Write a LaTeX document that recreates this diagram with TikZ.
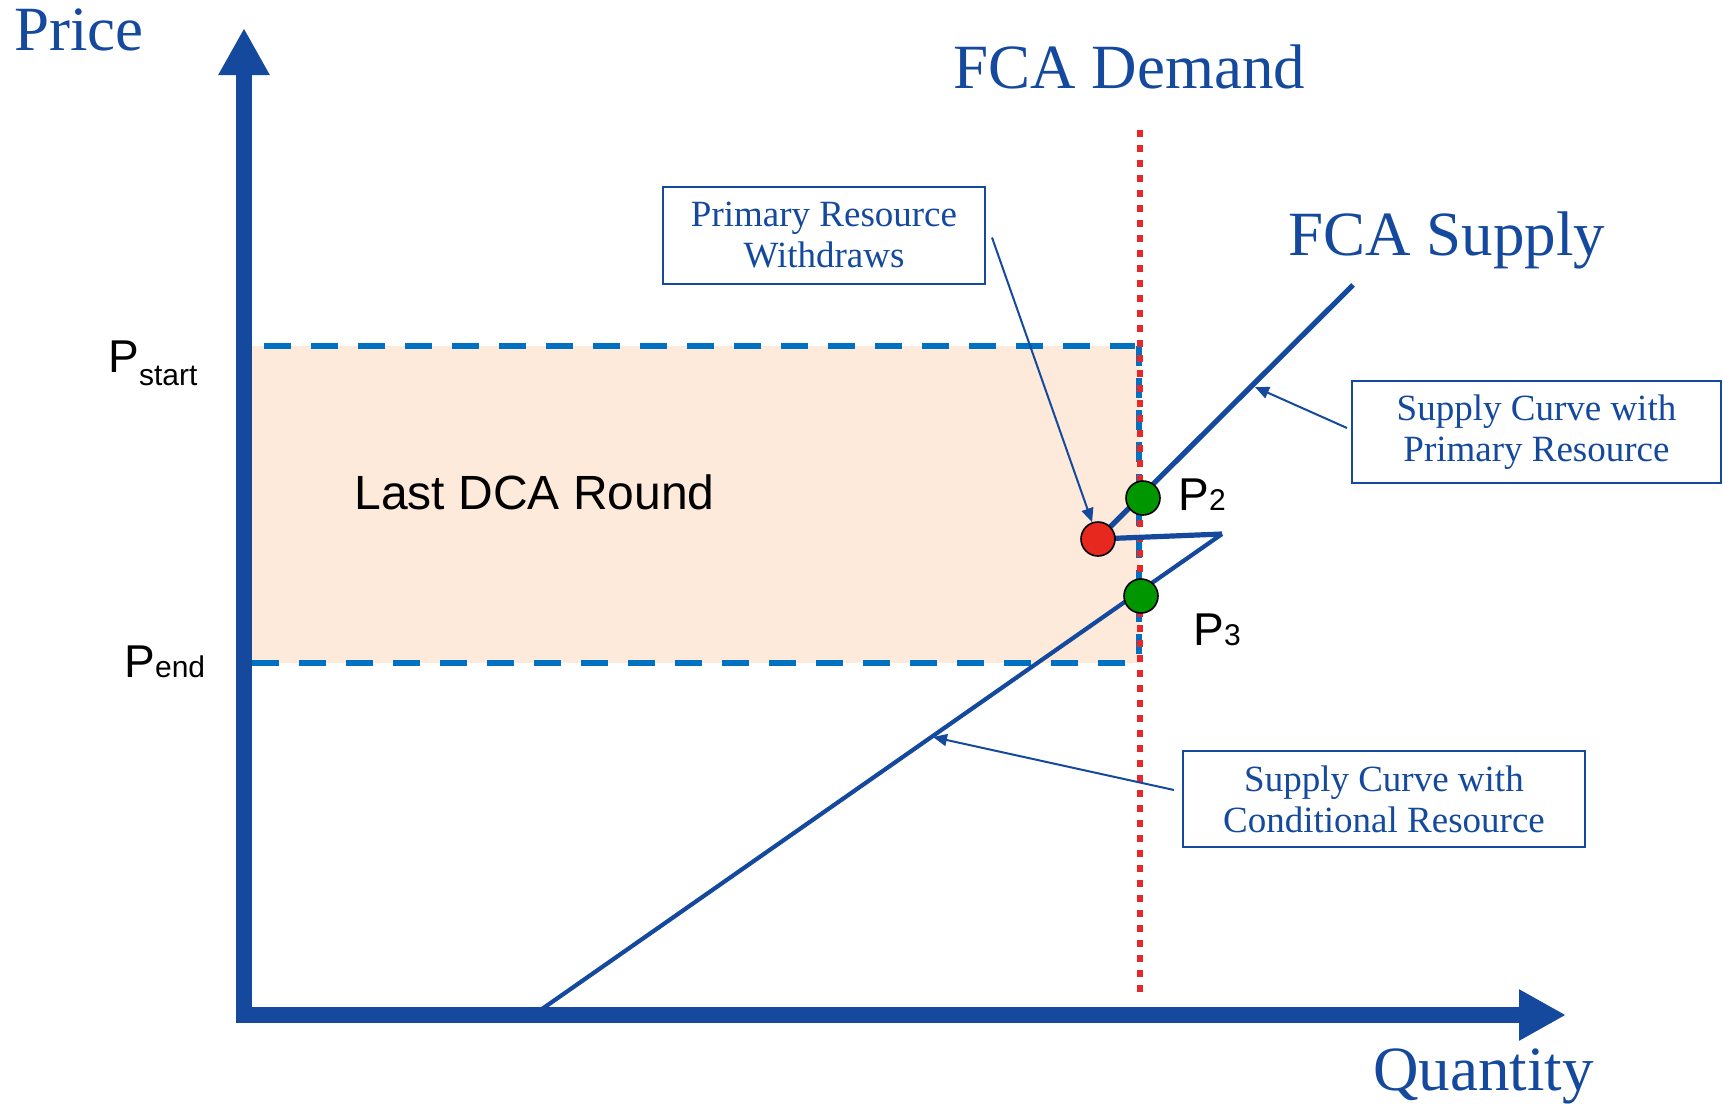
\documentclass[tikz,border=0pt]{standalone}
\usepackage{fontspec}
\setmainfont{Liberation Serif}
\newfontfamily\arialf{Liberation Sans}
\usetikzlibrary{arrows.meta,calc}
\definecolor{axisblue}{RGB}{20,73,158}
\definecolor{dashblue}{RGB}{0,112,192}
\definecolor{peach}{RGB}{253,234,218}
\definecolor{dotred}{RGB}{232,40,40}
\definecolor{ptgreen}{RGB}{0,150,0}
\definecolor{ptred}{RGB}{230,40,30}
\tikzset{
  axisline/.style={draw=axisblue,line width=8pt,-{Triangle[width=24pt,length=23.5pt]}},
  pdash/.style={draw=dashblue,line width=2.6pt,dash pattern=on 13.5pt off 10pt},
  demand/.style={draw=dotred,line width=3.2pt,dash pattern=on 3.5pt off 4pt},
  supply/.style={draw=axisblue,line width=2.6pt,line join=miter},
  supplythin/.style={draw=axisblue,line width=2.1pt},
  callout/.style={draw=axisblue,line width=1pt,-{Triangle[length=7pt,width=6pt]}},
  labelbox/.style={draw=axisblue,line width=1pt,fill=white,inner sep=0pt,align=center,
    text=axisblue,font=\fontsize{18.5pt}{20.5pt}\selectfont},
  bigtitle/.style={inner sep=0pt,anchor=base west,text=axisblue,font=\fontsize{31.5pt}{36pt}\selectfont},
  plabel/.style={inner sep=0pt,anchor=base west,text=black,font=\arialf\fontsize{23pt}{26pt}\selectfont},
  pt/.style={circle,draw=black,line width=0.8pt,minimum size=17pt,inner sep=0pt},
}
\newcommand{\subsz}[1]{{\fontsize{15pt}{17pt}\selectfont #1}}
\begin{document}
\begin{tikzpicture}[x=0.5pt,y=-0.5pt]
\useasboundingbox (0,0) rectangle (1725,1104);
% shaded region
\fill[peach] (252,346) rectangle (1140,663);
% price levels
\draw[pdash] (264,346) -- (1135,346);
\draw[pdash] (252,663) -- (1135,663);
\draw[pdash,dash pattern=on 10pt off 6pt] (1139,346) -- (1139,663);
% demand line
\coordinate (dtop) at (1140,130);
\coordinate (dbot) at (1140,999);
\draw[demand] (dtop) -- (dbot);
% axes
\coordinate (O) at (244,1015);
\coordinate (ytop) at (244,28);
\coordinate (xend) at (1566,1015);
\draw[axisline,line cap=rect] (O) -- (ytop);
\draw[axisline,line cap=rect] (O) -- (xend);
% supply curves
\coordinate (stop) at (1353,285);
\coordinate (r) at (1098,539);
\coordinate (kink) at (1222,534);
\coordinate (sbot) at (542,1009);
\coordinate (p2) at (1143,498);
\coordinate (p3) at (1141,596);
\draw[supply] (stop) -- (r) -- (kink);
\draw[supplythin] (kink) -- (sbot);
% points
\node[pt,fill=ptgreen] (P2) at (p2) {};
\node[pt,fill=ptred] (R) at (r) {};
\node[pt,fill=ptgreen] (P3) at (p3) {};
% labels
\node[bigtitle] (price) at (14,50) {Price};
\node[bigtitle] (fcad) at (953,88) {FCA Demand};
\node[bigtitle] (fcas) at (1288,255) {FCA Supply};
\node[bigtitle] (qty) at (1373,1090) {Quantity};
\node[plabel,font=\arialf\fontsize{24pt}{28pt}\selectfont] (last) at (354,509) {Last DCA Round};
\node[plabel] (pstart) at (108,372) {P\raisebox{-6.5pt}{\subsz{start}}};
\node[plabel] (pend) at (124,677) {P\subsz{end}};
\node[plabel] (lp2) at (1178,510) {P\subsz{2}};
\node[plabel] (lp3) at (1193,645) {P\subsz{3}};
% boxes
\node[labelbox,minimum width=161pt,minimum height=48.5pt] (b1) at (824,235.5) {Primary Resource\\Withdraws};
\node[labelbox,minimum width=184.5pt,minimum height=51pt] (b2) at (1536.5,432) {Supply Curve with\\Primary Resource};
\node[labelbox,minimum width=201pt,minimum height=48pt] (b3) at (1384,799) {Supply Curve with\\Conditional Resource};
% callouts
\coordinate (c1) at ($(b1.east)+(6,2)$);
\coordinate (c2) at ($(b2.west)+(-4,-4)$);
\coordinate (c3) at ($(b3.west)+(-8,-9)$);
\coordinate (s2) at (1255,387);
\coordinate (s3) at (933,737);
\draw[callout] (c1) -- (R);
\draw[callout] (c2) -- (s2);
\draw[callout] (c3) -- (s3);
\end{tikzpicture}
\end{document}
